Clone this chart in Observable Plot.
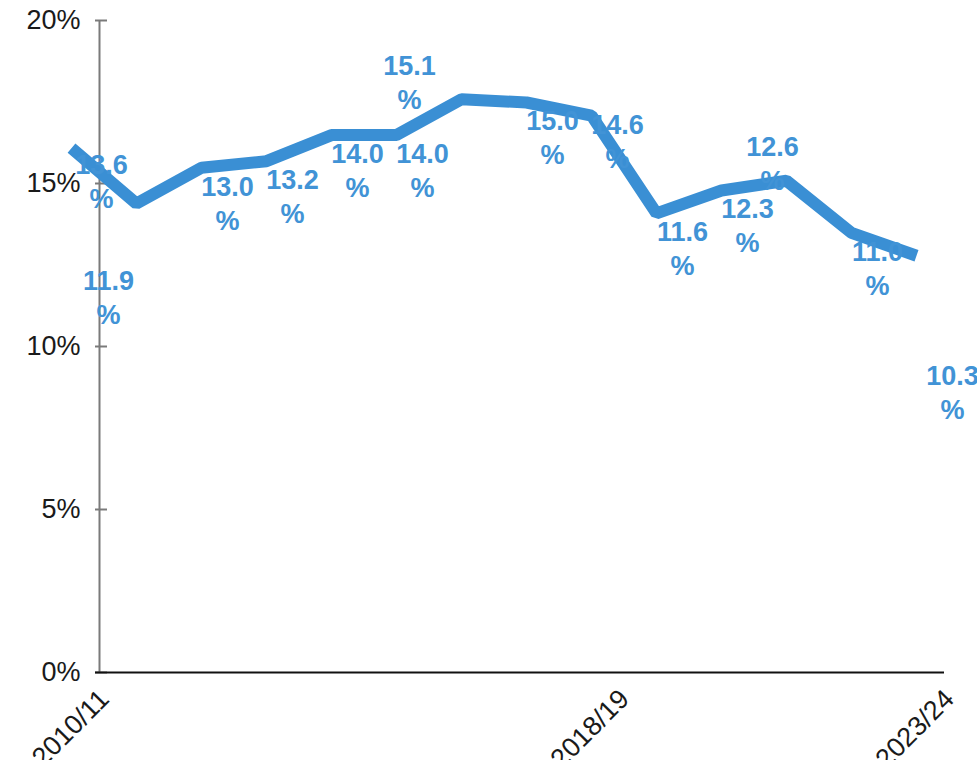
<!DOCTYPE html>
<html>
<head>
<meta charset="utf-8">
<script src="https://cdn.jsdelivr.net/npm/d3@7"></script>
<script src="https://cdn.jsdelivr.net/npm/@observablehq/plot@0.6"></script>
<style>
  html, body { margin: 0; padding: 0; background: #fff; overflow: hidden; }
  #chart svg { display: block; overflow: visible; }
  #chart [aria-label="y-axis"] line,
  #chart [aria-label="y-axis tick"] path { stroke: #7a7a7a; stroke-width: 2; }
</style>
</head>
<body>
<div id="chart"></div>
<script>
// Financial years on the x axis
const years = [
  "2010/11", "2011/12", "2012/13", "2013/14", "2014/15", "2015/16", "2016/17",
  "2017/18", "2018/19", "2019/20", "2020/21", "2021/22", "2022/23", "2023/24"
];
// Share per year, in percent
const shares = [13.6, 11.9, 13.0, 13.2, 14.0, 14.0, 15.1, 15.0, 14.6, 11.6, 12.3, 12.6, 11.0, 10.3];
// Axis ticks
const yTicks = [0, 5, 10, 15, 20];
const xTickLabels = ["2010/11", "2018/19", "2023/24"];

const data = years.map((year, i) => ({year, share: shares[i]}));

const blue = "#3a8fd4";
const labelBlue = "#4193d6";

// Label placement: most labels sit just under the line; a few are moved aside
const defaultOffset = [-7, -47];
const labelOffsets = {
  "2010/11": [-3, -49],
  "2011/12": [-61, 12],
  "2016/17": [-85, -99],
  "2018/19": [-7, -56],
  "2021/22": [-47, -100],
  "2023/24": [3, 54]
};

const labelMarks = data.map(d => {
  const [dx, dy] = labelOffsets[d.year] || defaultOffset;
  return Plot.text([d], {
    x: "year",
    y: "share",
    text: v => v.share.toFixed(1) + "\n%",
    dx, dy,
    fill: labelBlue,
    fontSize: 27,
    fontWeight: "bold",
    lineHeight: 1.26,
    lineAnchor: "middle",
    textAnchor: "middle"
  });
});

const chart = Plot.plot({
  width: 977,
  height: 760,
  marginLeft: 95,
  marginRight: 33,
  marginTop: 20,
  marginBottom: 88,
  style: {fontFamily: "'Liberation Sans', Arial, sans-serif", fontSize: "27px", color: "#1a1a1a", background: "#fff"},
  x: {
    type: "point",
    domain: years,
    range: [100, 953],
    padding: 0,
    label: null,
    tickSize: 0,
    tickRotate: -45,
    tickPadding: 22,
    tickFormat: d => xTickLabels.includes(d) ? d : ""
  },
  y: {
    domain: [0, 20],
    ticks: yTicks,
    tickFormat: d => d + "%",
    tickSize: -12,
    tickPadding: 27,
    label: null
  },
  marks: [
    // vertical axis line
    Plot.ruleX([years[0]], {dx: -5, y1: 0, y2: 20, stroke: "#7a7a7a", strokeWidth: 2}),
    // horizontal axis line
    Plot.ruleY([0], {stroke: "#111", strokeWidth: 2}),
    Plot.line(data, {
      x: "year",
      y: "share",
      dx: -33,
      dy: -81,
      stroke: blue,
      strokeWidth: 12,
      strokeLinejoin: "miter",
      strokeLinecap: "butt"
    }),
    ...labelMarks
  ]
});

document.getElementById("chart").appendChild(chart);
</script>
</body>
</html>
